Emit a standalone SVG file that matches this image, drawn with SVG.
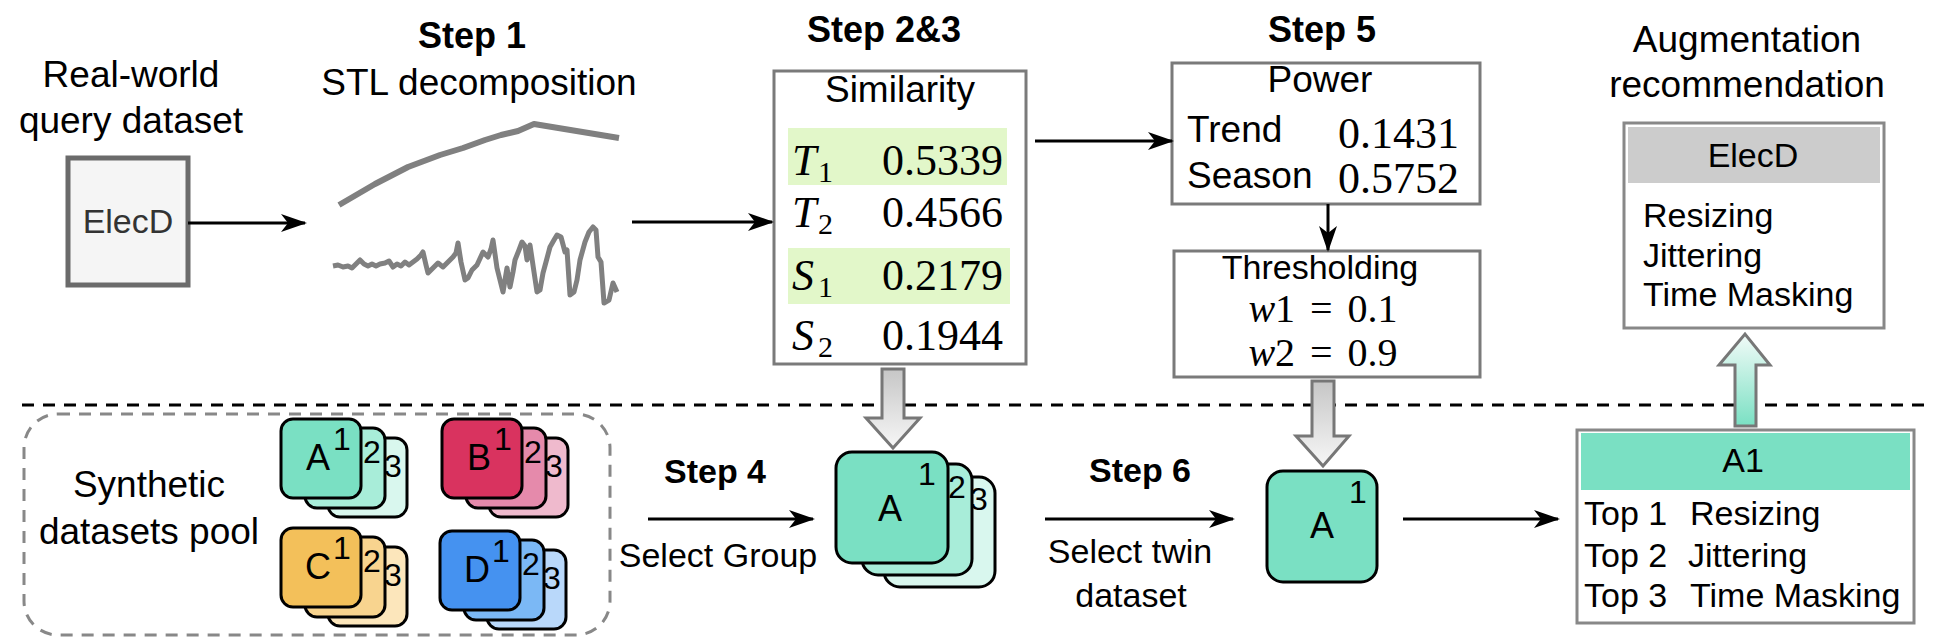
<svg xmlns="http://www.w3.org/2000/svg" width="1942" height="644" viewBox="0 0 1942 644">
<style>
.t{font-family:"Liberation Sans",Arial,sans-serif;fill:#000}
.ti{font-size:37px}
.st{font-size:36px;font-weight:bold}
.sb{font-size:34px;font-weight:bold}
.b34{font-size:34px}
.b37{font-size:37px}
.m{font-family:"Liberation Serif","Times New Roman",serif;font-size:44px;fill:#000}
.mw{font-family:"Liberation Serif","Times New Roman",serif;font-size:40px;word-spacing:5px;fill:#000}
.sub{font-family:"Liberation Serif","Times New Roman",serif;font-size:30px;fill:#000}
.box{fill:#fff;stroke:#7a7a7a;stroke-width:3}
.conn{stroke:#000;stroke-width:3;fill:none;marker-end:url(#ah)}
.card{stroke:#000;stroke-width:3}
.cl{font-family:"Liberation Sans",Arial,sans-serif;font-size:36px;fill:#000;text-anchor:middle}
.cn{font-family:"Liberation Sans",Arial,sans-serif;font-size:32px;fill:#000;text-anchor:middle}
.curve{fill:none;stroke:#808080;stroke-linejoin:round}
.hl{fill:#e2f7c9}
</style>
<defs>
<marker id="ah" markerUnits="userSpaceOnUse" markerWidth="26" markerHeight="20" refX="24" refY="10" orient="auto">
<path d="M0,1 L26,10 L0,19 L7,10 Z" fill="#000"/>
</marker>
<linearGradient id="gg" x1="0" y1="0" x2="0" y2="1">
<stop offset="0" stop-color="#c6c6c6"/>
<stop offset="1" stop-color="#f7f7f7"/>
</linearGradient>
<linearGradient id="tg" x1="0" y1="0" x2="0" y2="1">
<stop offset="0" stop-color="#f2fbf8"/>
<stop offset="1" stop-color="#7ae0c3"/>
</linearGradient>
</defs>
<rect width="1942" height="644" fill="#fff"/>

<line x1="22" y1="405" x2="1932" y2="405" stroke="#000" stroke-width="3" stroke-dasharray="12 9"/>

<g id="query">
<text class="t ti" x="131" y="87" text-anchor="middle">Real-world</text>
<text class="t ti" x="131" y="133" text-anchor="middle">query dataset</text>
<rect x="68" y="158" width="120" height="127" fill="#f5f5f5" stroke="#6b6b6b" stroke-width="5"/>
<text class="t b34" x="128" y="233" text-anchor="middle" style="fill:#333">ElecD</text>
</g>

<g id="stl">
<text class="t st" x="472" y="48" text-anchor="middle">Step 1</text>
<text class="t ti" x="479" y="95" text-anchor="middle">STL decomposition</text>
<path class="curve" stroke-width="6" d="M339,205 L375,184 L408,167 L440,155 L463,148 L485,140 L501,135 L518,131 L534,124 L619,138"/>
<path class="curve" stroke-width="5" d="M333,266 L338,265 L343,267 L348,266 L352,268 L356,264 L360,260 L364,264 L368,266 L372,264 L376,266 L380,264 L385,263 L389,261 L393,267 L397,264 L401,266 L405,262 L409,265 L413,262 L417,259 L421,255 L423,252 L426,265 L428,273 L433,268 L438,263 L443,267 L448,262 L453,257 L456,253 L458,243 L461,262 L465,280 L468,278 L472,270 L477,265 L483,252 L486,255 L488,257 L491,249 L493,240 L497,268 L503,292 L505,280 L507,268 L510,287 L513,272 L515,260 L519,250 L522,242 L525,246 L527,260 L529,250 L530,245 L534,272 L537,292 L540,290 L543,273 L546,262 L550,247 L554,240 L557,235 L561,237 L565,252 L567,250 L570,295 L574,292 L577,280 L580,260 L585,242 L589,232 L593,227 L596,230 L598,257 L601,262 L604,303 L609,300 L613,283 L617,292"/>
</g>

<g id="similarity">
<text class="t st" x="884" y="42" text-anchor="middle">Step 2&amp;3</text>
<rect class="box" x="774" y="71" width="252" height="293"/>
<text class="t b37" x="900" y="102" text-anchor="middle">Similarity</text>
<rect class="hl" x="788" y="128" width="219" height="57"/>
<rect class="hl" x="788" y="248" width="222" height="56"/>
<text class="m" x="792" y="175" font-style="italic">T</text><text class="sub" x="818" y="182">1</text>
<text class="m" x="1003" y="175" text-anchor="end">0.5339</text>
<text class="m" x="792" y="227" font-style="italic">T</text><text class="sub" x="818" y="234">2</text>
<text class="m" x="1003" y="227" text-anchor="end">0.4566</text>
<text class="m" x="792" y="290" font-style="italic">S</text><text class="sub" x="818" y="297">1</text>
<text class="m" x="1003" y="290" text-anchor="end">0.2179</text>
<text class="m" x="792" y="350" font-style="italic">S</text><text class="sub" x="818" y="357">2</text>
<text class="m" x="1003" y="350" text-anchor="end">0.1944</text>
</g>

<g id="power">
<text class="t st" x="1322" y="42" text-anchor="middle">Step 5</text>
<rect class="box" x="1172" y="63" width="308" height="141"/>
<text class="t b37" x="1320" y="92" text-anchor="middle">Power</text>
<text class="t b37" x="1187" y="142">Trend</text>
<text class="m" x="1459" y="148" text-anchor="end">0.1431</text>
<text class="t b37" x="1187" y="188">Season</text>
<text class="m" x="1459" y="193" text-anchor="end">0.5752</text>
</g>

<g id="threshold">
<rect class="box" x="1174" y="251" width="306" height="126"/>
<text class="t b34" x="1320" y="279" text-anchor="middle">Thresholding</text>
<text class="mw" x="1323" y="322" text-anchor="middle"><tspan font-style="italic">w</tspan>1 = 0.1</text>
<text class="mw" x="1323" y="366" text-anchor="middle"><tspan font-style="italic">w</tspan>2 = 0.9</text>
</g>

<g id="recommendation">
<text class="t ti" x="1747" y="52" text-anchor="middle">Augmentation</text>
<text class="t ti" x="1747" y="97" text-anchor="middle">recommendation</text>
<rect x="1624" y="123" width="260" height="205" fill="#fff" stroke="#888" stroke-width="3"/>
<rect x="1628" y="127" width="252" height="56" fill="#cccccc"/>
<text class="t b34" x="1753" y="167" text-anchor="middle">ElecD</text>
<text class="t b34" x="1643" y="227">Resizing</text>
<text class="t b34" x="1643" y="267">Jittering</text>
<text class="t b34" x="1643" y="306">Time Masking</text>
</g>

<g id="pool">
<rect x="24" y="414" width="586" height="221" rx="34" fill="none" stroke="#888" stroke-width="3" stroke-dasharray="12 9"/>
<text class="t ti" x="149" y="497" text-anchor="middle">Synthetic</text>
<text class="t ti" x="149" y="544" text-anchor="middle">datasets pool</text>
<g id="stackA" transform="translate(281,419)">
<rect class="card" x="47" y="19" width="79" height="79" rx="12" fill="#d9f7ee"/><text class="cn" x="112" y="58">3</text>
<rect class="card" x="24" y="9" width="80" height="80" rx="12" fill="#a8edd9"/><text class="cn" x="91" y="44">2</text>
<rect class="card" x="0" y="0" width="80" height="79" rx="12" fill="#7ae0c3"/><text class="cl" x="37" y="51">A</text><text class="cn" x="61" y="31">1</text>
</g>
<g id="stackB" transform="translate(442,419)">
<rect class="card" x="47" y="19" width="79" height="79" rx="12" fill="#efbacd"/><text class="cn" x="112" y="58">3</text>
<rect class="card" x="24" y="9" width="80" height="80" rx="12" fill="#e58aab"/><text class="cn" x="91" y="44">2</text>
<rect class="card" x="0" y="0" width="80" height="79" rx="12" fill="#d9335f"/><text class="cl" x="37" y="51">B</text><text class="cn" x="61" y="31">1</text>
</g>
<g id="stackC" transform="translate(281,528)">
<rect class="card" x="47" y="19" width="79" height="79" rx="12" fill="#fce6bb"/><text class="cn" x="112" y="58">3</text>
<rect class="card" x="24" y="9" width="80" height="80" rx="12" fill="#f8d48f"/><text class="cn" x="91" y="44">2</text>
<rect class="card" x="0" y="0" width="80" height="79" rx="12" fill="#f3c05a"/><text class="cl" x="37" y="51">C</text><text class="cn" x="61" y="31">1</text>
</g>
<g id="stackD" transform="translate(440,531)">
<rect class="card" x="47" y="19" width="79" height="79" rx="12" fill="#b9d8fa"/><text class="cn" x="112" y="58">3</text>
<rect class="card" x="24" y="9" width="80" height="80" rx="12" fill="#7bb8f5"/><text class="cn" x="91" y="44">2</text>
<rect class="card" x="0" y="0" width="80" height="79" rx="12" fill="#4592f0"/><text class="cl" x="37" y="51">D</text><text class="cn" x="61" y="31">1</text>
</g>
</g>

<g id="groupA">
<rect class="card" x="884" y="477" width="111" height="110" rx="16" fill="#d9f7ee"/><text class="cn" x="979" y="510">3</text>
<rect class="card" x="862" y="464" width="110" height="111" rx="16" fill="#a8edd9"/><text class="cn" x="957" y="498">2</text>
<rect class="card" x="836" y="452" width="112" height="111" rx="16" fill="#7ae0c3"/><text class="cl" x="890" y="521">A</text><text class="cn" x="927" y="485">1</text>
</g>

<g id="twinA1">
<rect class="card" x="1267" y="471" width="110" height="111" rx="16" fill="#7ae0c3"/>
<text class="cl" x="1322" y="538">A</text><text class="cn" x="1358" y="503">1</text>
</g>

<g id="a1box">
<rect x="1577" y="430" width="337" height="193" fill="#fff" stroke="#888" stroke-width="3"/>
<rect x="1581" y="433" width="329" height="57" fill="#7ae0c3"/>
<text class="t b34" x="1743" y="472" text-anchor="middle">A1</text>
<text class="t b34" x="1584" y="525">Top 1</text><text class="t b34" x="1690" y="525">Resizing</text>
<text class="t b34" x="1584" y="567">Top 2</text><text class="t b34" x="1688" y="567">Jittering</text>
<text class="t b34" x="1584" y="607">Top 3</text><text class="t b34" x="1690" y="607">Time Masking</text>
</g>

<g id="labels">
<text class="t sb" x="715" y="483" text-anchor="middle">Step 4</text>
<text class="t b34" x="718" y="567" text-anchor="middle">Select Group</text>
<text class="t sb" x="1140" y="482" text-anchor="middle">Step 6</text>
<text class="t b34" x="1130" y="563" text-anchor="middle">Select twin</text>
<text class="t b34" x="1131" y="607" text-anchor="middle">dataset</text>
</g>

<g id="connectors">
<line class="conn" x1="188" y1="223" x2="305" y2="223"/>
<line class="conn" x1="632" y1="222" x2="772" y2="222"/>
<line class="conn" x1="1035" y1="141" x2="1172" y2="141"/>
<line class="conn" x1="1328" y1="204" x2="1328" y2="250"/>
<line class="conn" x1="648" y1="519" x2="813" y2="519"/>
<line class="conn" x1="1045" y1="519" x2="1233" y2="519"/>
<line class="conn" x1="1403" y1="519" x2="1558" y2="519"/>
<path d="M882,369 L904,369 L904,418 L920,418 L893,448 L866,418 L882,418 Z" fill="url(#gg)" stroke="#777" stroke-width="3"/>
<path d="M1312,381 L1334,381 L1334,436 L1349,436 L1323,466 L1296,436 L1312,436 Z" fill="url(#gg)" stroke="#777" stroke-width="3"/>
<path d="M1735,426 L1756,426 L1756,365 L1770,365 L1745,334 L1719,365 L1735,365 Z" fill="url(#tg)" stroke="#777" stroke-width="3"/>
</g>
</svg>
